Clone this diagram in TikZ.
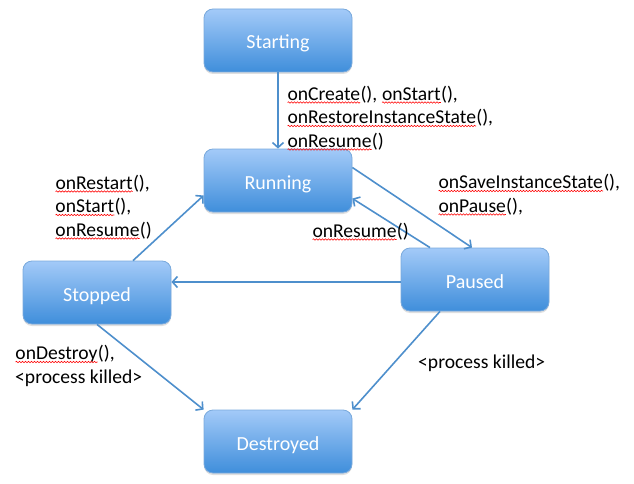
\documentclass[tikz,border=0pt]{standalone}
\usepackage{fontspec}
\setmainfont{Carlito}
\usetikzlibrary{arrows.meta,shadows,decorations.pathmorphing}
\definecolor{boxtop}{HTML}{A3CAF8}
\definecolor{boxbot}{HTML}{3F8EDB}
\definecolor{boxline}{HTML}{79A9DC}
\definecolor{arr}{HTML}{4E8FCC}
\newcommand\rw[1]{\tikz[baseline=(w.base),x=1pt,y=1pt]{\node[inner sep=0pt,outer sep=0pt,anchor=base,draw=none](w){#1};
  \draw[red,line width=0.6pt,decorate,decoration={snake,amplitude=0.7pt,segment length=3pt}] ([yshift=-2.5pt]w.base west) -- ([yshift=-2.5pt]w.base east);}}
\tikzset{
  state/.style={rounded corners=9pt, minimum width=148pt, minimum height=63pt,
    top color=boxtop, bottom color=boxbot, draw=boxline, line width=0.8pt,
    text=white, font=\fontsize{20}{24}\selectfont, text height=17pt, text depth=0pt,
    drop shadow={shadow xshift=0pt, shadow yshift=-2pt, opacity=.25}},
  conn/.style={draw=arr, line width=1.6pt, -{Straight Barb[length=5pt,width=11pt]}},
  lbl/.style={inner sep=0pt, anchor=base west, align=left, font=\fontsize{19.6}{23.5}\selectfont}
}
\begin{document}
\begin{tikzpicture}[x=1pt,y=-1pt]
\useasboundingbox (0,0) rectangle (634,484);
\node[state] (start) at (278,40.5) {Starting};
\node[state] (run) at (278,180.5) {Running};
\node[state] (pau) at (475,279.5) {Paused};
\node[state] (sto) at (97,292.5) {Stopped};
\node[state] (des) at (278,441.5) {Destroyed};

\draw[conn] (start.south) -- (run.north);
\draw[conn] ([yshift=13pt]run.east) -- ([xshift=-3pt]pau.north);
\draw[conn] ([xshift=-45pt]pau.north) -- ([yshift=-18pt]run.east);
\draw[conn] ([yshift=-2.5pt]pau.west) -- ([yshift=10.5pt]sto.east);
\draw[conn] ([xshift=36pt]sto.north) -- ([yshift=-15pt]run.west);
\draw[conn] (sto.south) -- (des.north west);
\draw[conn] ([xshift=-35pt]pau.south) -- (des.north east);

\node[lbl] (la) at (287,147) {\rw{onCreate}(), \rw{onStart}(),\\ \rw{onRestoreInstanceState}(),\\ \rw{onResume}()};
\node[lbl] (lb) at (55,236) {\rw{onRestart}(),\\ \rw{onStart}(),\\ \rw{onResume}()};
\node[lbl] (lc) at (438,212) {\rw{onSaveInstanceState}(),\\ \rw{onPause}(),};
\node[lbl] (ld) at (312,237) {\rw{onResume}()};
\node[lbl] (le) at (15,383) {\rw{onDestroy}(),\\ <process killed>};
\node[lbl] (lf) at (418,368) {<process killed>};
\end{tikzpicture}
\end{document}
